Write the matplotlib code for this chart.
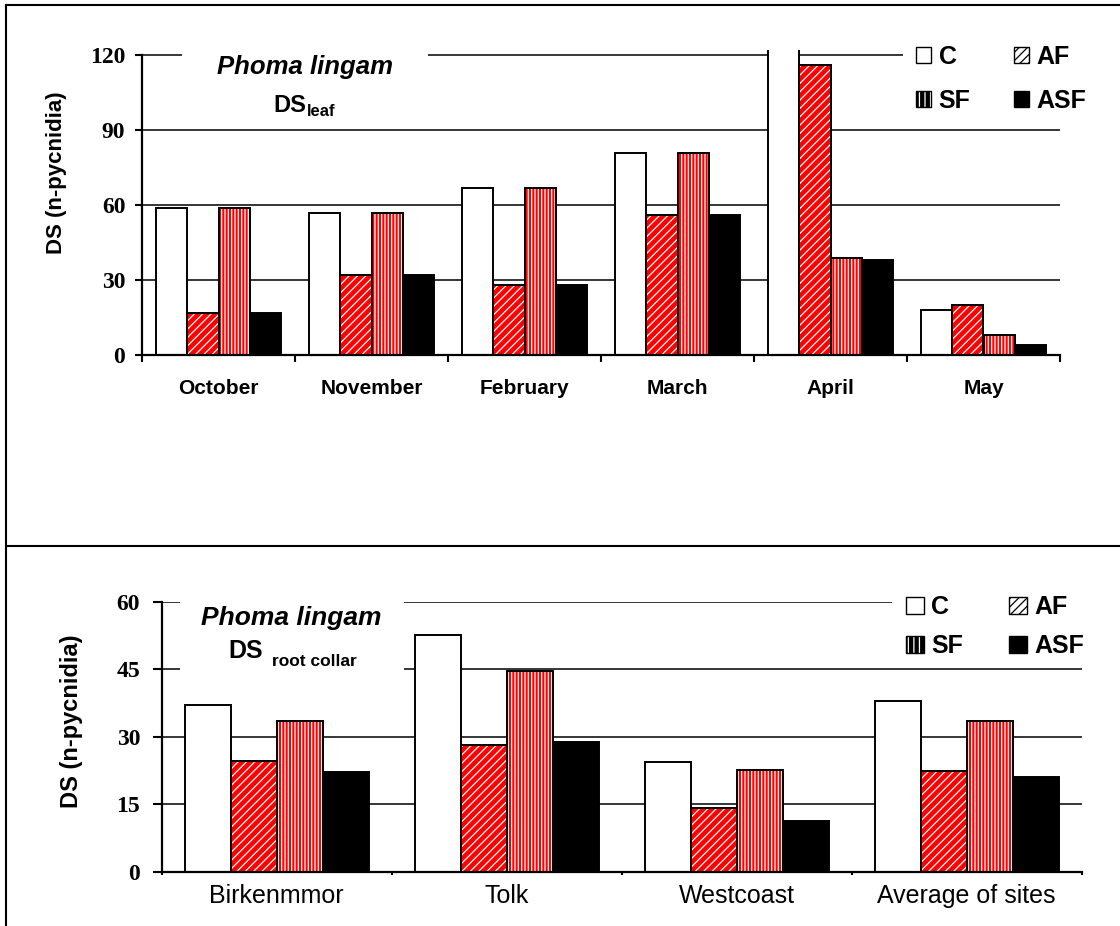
import matplotlib
matplotlib.use("Agg")
import matplotlib.pyplot as plt
from matplotlib.patches import Patch, Rectangle
from matplotlib.lines import Line2D
import numpy as np

# ---------------- data ----------------
months = ["October", "November", "February", "March", "April", "May"]
leaf_C = [59, 57, 67, 81, 140, 18]      # April C runs off the top of the axis
leaf_AF = [17, 32, 28, 56, 116, 20]
leaf_SF = [59, 57, 67, 81, 39, 8]
leaf_ASF = [17, 32, 28, 56, 38, 4]

sites = ["Birkenmmor", "Tolk", "Westcoast", "Average of sites"]
root_C = [37.0, 52.5, 24.4, 37.9]
root_AF = [24.7, 28.2, 14.2, 22.4]
root_SF = [33.5, 44.7, 22.7, 33.6]
root_ASF = [22.2, 28.9, 11.3, 21.1]

series_names = ["C", "AF", "SF", "ASF"]
leaf_ticks = [0, 30, 60, 90, 120]
root_ticks = [0, 15, 30, 45, 60]

# ---------------- style ----------------
RED = "#FF0000"
SANS = "Liberation Sans"
SERIF = "Liberation Serif"
plt.rcParams["hatch.linewidth"] = 0.9

W, H = 1120, 926
fig = plt.figure(figsize=(W / 100, H / 100), dpi=100)


def fx(px):
    return px / W


def fy(py):
    return 1 - py / H


def draw_bars(ax, values_list, width):
    n = len(values_list[0])
    x = np.arange(n)
    offs = (np.arange(4) - 1.5) * width
    C, AF, SF, ASF = values_list
    ax.bar(x + offs[0], C, width, facecolor="white", edgecolor="black", linewidth=1.4, zorder=3)
    ax.bar(x + offs[1], AF, width, facecolor=RED, edgecolor="white", hatch="////", linewidth=0, zorder=3)
    ax.bar(x + offs[1], AF, width, fill=False, edgecolor="black", linewidth=1.4, zorder=4)
    ax.bar(x + offs[2], SF, width, facecolor=RED, edgecolor="white", hatch="|||||", linewidth=0, zorder=3)
    ax.bar(x + offs[2], SF, width, fill=False, edgecolor="black", linewidth=1.4, zorder=4)
    ax.bar(x + offs[3], ASF, width, facecolor="black", edgecolor="black", linewidth=1.4, zorder=3)


def style_axis(ax, ticks, cats, top, xlab_font, xlab_pad, ylab_pad, ytick_len, xtick_len):
    n = len(cats)
    ax.set_xlim(-0.5, n - 0.5)
    ax.set_ylim(0, top)
    ax.set_yticks(ticks)
    ax.set_yticklabels([str(t) for t in ticks], fontfamily=SERIF, fontweight="bold", fontsize=17)
    ax.set_xticks(np.arange(n))
    ax.set_xticklabels(cats, **xlab_font)
    ax.set_xticks(np.arange(n + 1) - 0.5, minor=True)
    ax.tick_params(axis="x", which="major", length=0, pad=xlab_pad)
    ax.tick_params(axis="x", which="minor", length=xtick_len, width=1.5, direction="out")
    ax.tick_params(axis="y", length=ytick_len, width=1.5, direction="out", pad=ylab_pad)
    for s in ["top", "right"]:
        ax.spines[s].set_visible(False)
    for s in ["left", "bottom"]:
        ax.spines[s].set_linewidth(1.6)
        ax.spines[s].set_zorder(5)
    ax.spines["left"].set_bounds(0, ticks[-1])
    ax.set_axisbelow(True)
    ax.yaxis.grid(True, color="black", linewidth=1.1)
    ax.xaxis.grid(False)


def add_mask(ax, x0, x1, y0, y1):
    ax.add_patch(Rectangle((x0, y0), x1 - x0, y1 - y0, transform=ax.get_yaxis_transform(),
                           facecolor="white", edgecolor="none", zorder=1, clip_on=False))


legend_handles = [
    Patch(facecolor="white", edgecolor="black", linewidth=1.0),
    (Patch(facecolor="black", edgecolor="white", hatch="|||", linewidth=0.0),
     Patch(fill=False, edgecolor="black", linewidth=1.0)),
    Patch(facecolor="white", edgecolor="black", hatch="////", linewidth=1.0),
    Patch(facecolor="black", edgecolor="black", linewidth=1.0),
]
legend_labels = ["C", "SF", "AF", "ASF"]

# ---------------- top panel ----------------
ax1 = fig.add_axes([fx(142), fy(355), fx(1060) - fx(142), (305) / H])
draw_bars(ax1, [leaf_C, leaf_AF, leaf_SF, leaf_ASF], 0.204)
style_axis(ax1, leaf_ticks, months, 122,
           dict(fontfamily=SANS, fontweight="bold", fontsize=15),
           xlab_pad=17, ylab_pad=7, ytick_len=5, xtick_len=5)
ax1.set_ylabel("DS (n-pycnidia)", fontfamily=SANS, fontweight="bold", fontsize=16)
ax1.yaxis.set_label_coords((67 - 142) / 918, (355 - 173) / 305)
add_mask(ax1, (182 - 142) / 918, (428 - 142) / 918, 105, 126)
add_mask(ax1, (903 - 142) / 918, 1.02, 105, 126)

leg1 = ax1.legend(legend_handles, legend_labels, ncol=2, frameon=False,
                  loc="upper left", bbox_to_anchor=(fx(916), fy(45)), bbox_transform=fig.transFigure,
                  borderaxespad=0, borderpad=0, handlelength=0.6, handleheight=0.6,
                  handletextpad=0.3, columnspacing=1.75, labelspacing=0.8,
                  prop=dict(family=SANS, weight="bold", size=18))

fig.text(fx(305), fy(74), "Phoma lingam", ha="center", va="baseline",
         fontfamily=SANS, fontweight="bold", fontstyle="italic", fontsize=18.5)
fig.text(fx(273), fy(112), "DS", ha="left", va="baseline",
         fontfamily=SANS, fontweight="bold", fontsize=17)
fig.text(fx(307), fy(116), "leaf", ha="left", va="baseline",
         fontfamily=SANS, fontweight="bold", fontsize=12)

# ---------------- bottom panel ----------------
ax2 = fig.add_axes([fx(161.7), fy(871.7), (1081.7 - 161.7) / W, 270 / H])
draw_bars(ax2, [root_C, root_AF, root_SF, root_ASF], 0.2)
style_axis(ax2, root_ticks, sites, 60,
           dict(fontfamily=SANS, fontsize=18),
           xlab_pad=9, ylab_pad=9, ytick_len=6.5, xtick_len=2)
ax2.set_ylabel("DS (n-pycnidia)", fontfamily=SANS, fontweight="bold", fontsize=17)
ax2.yaxis.set_label_coords((83 - 161.7) / 920, (871.7 - 721.7) / 270)
add_mask(ax2, (180 - 161.7) / 920, (404 - 161.7) / 920, 40, 63)
add_mask(ax2, (892 - 161.7) / 920, 1.02, 55, 63)

leg2 = ax2.legend(legend_handles, legend_labels, ncol=2, frameon=False,
                  loc="upper left", bbox_to_anchor=(fx(906), fy(595)), bbox_transform=fig.transFigure,
                  borderaxespad=0, borderpad=0, handlelength=0.7, handleheight=0.7,
                  handletextpad=0.3, columnspacing=1.85, labelspacing=0.6,
                  prop=dict(family=SANS, weight="bold", size=18))

fig.text(fx(291), fy(625), "Phoma lingam", ha="center", va="baseline",
         fontfamily=SANS, fontweight="bold", fontstyle="italic", fontsize=19)
fig.text(fx(228), fy(658), "DS", ha="left", va="baseline",
         fontfamily=SANS, fontweight="bold", fontsize=18)
fig.text(fx(272), fy(666), "root collar", ha="left", va="baseline",
         fontfamily=SANS, fontweight="bold", fontsize=12.5)

# ---------------- frame lines ----------------
for (x0, y0, x1, y1) in [(6, 5, 1120, 5), (6, 5, 6, 926), (6, 545.7, 1120, 545.7)]:
    fig.add_artist(Line2D([fx(x0), fx(x1)], [fy(y0), fy(y1)], transform=fig.transFigure,
                          color="black", linewidth=1.5))

fig.savefig("out.png", dpi=100)
